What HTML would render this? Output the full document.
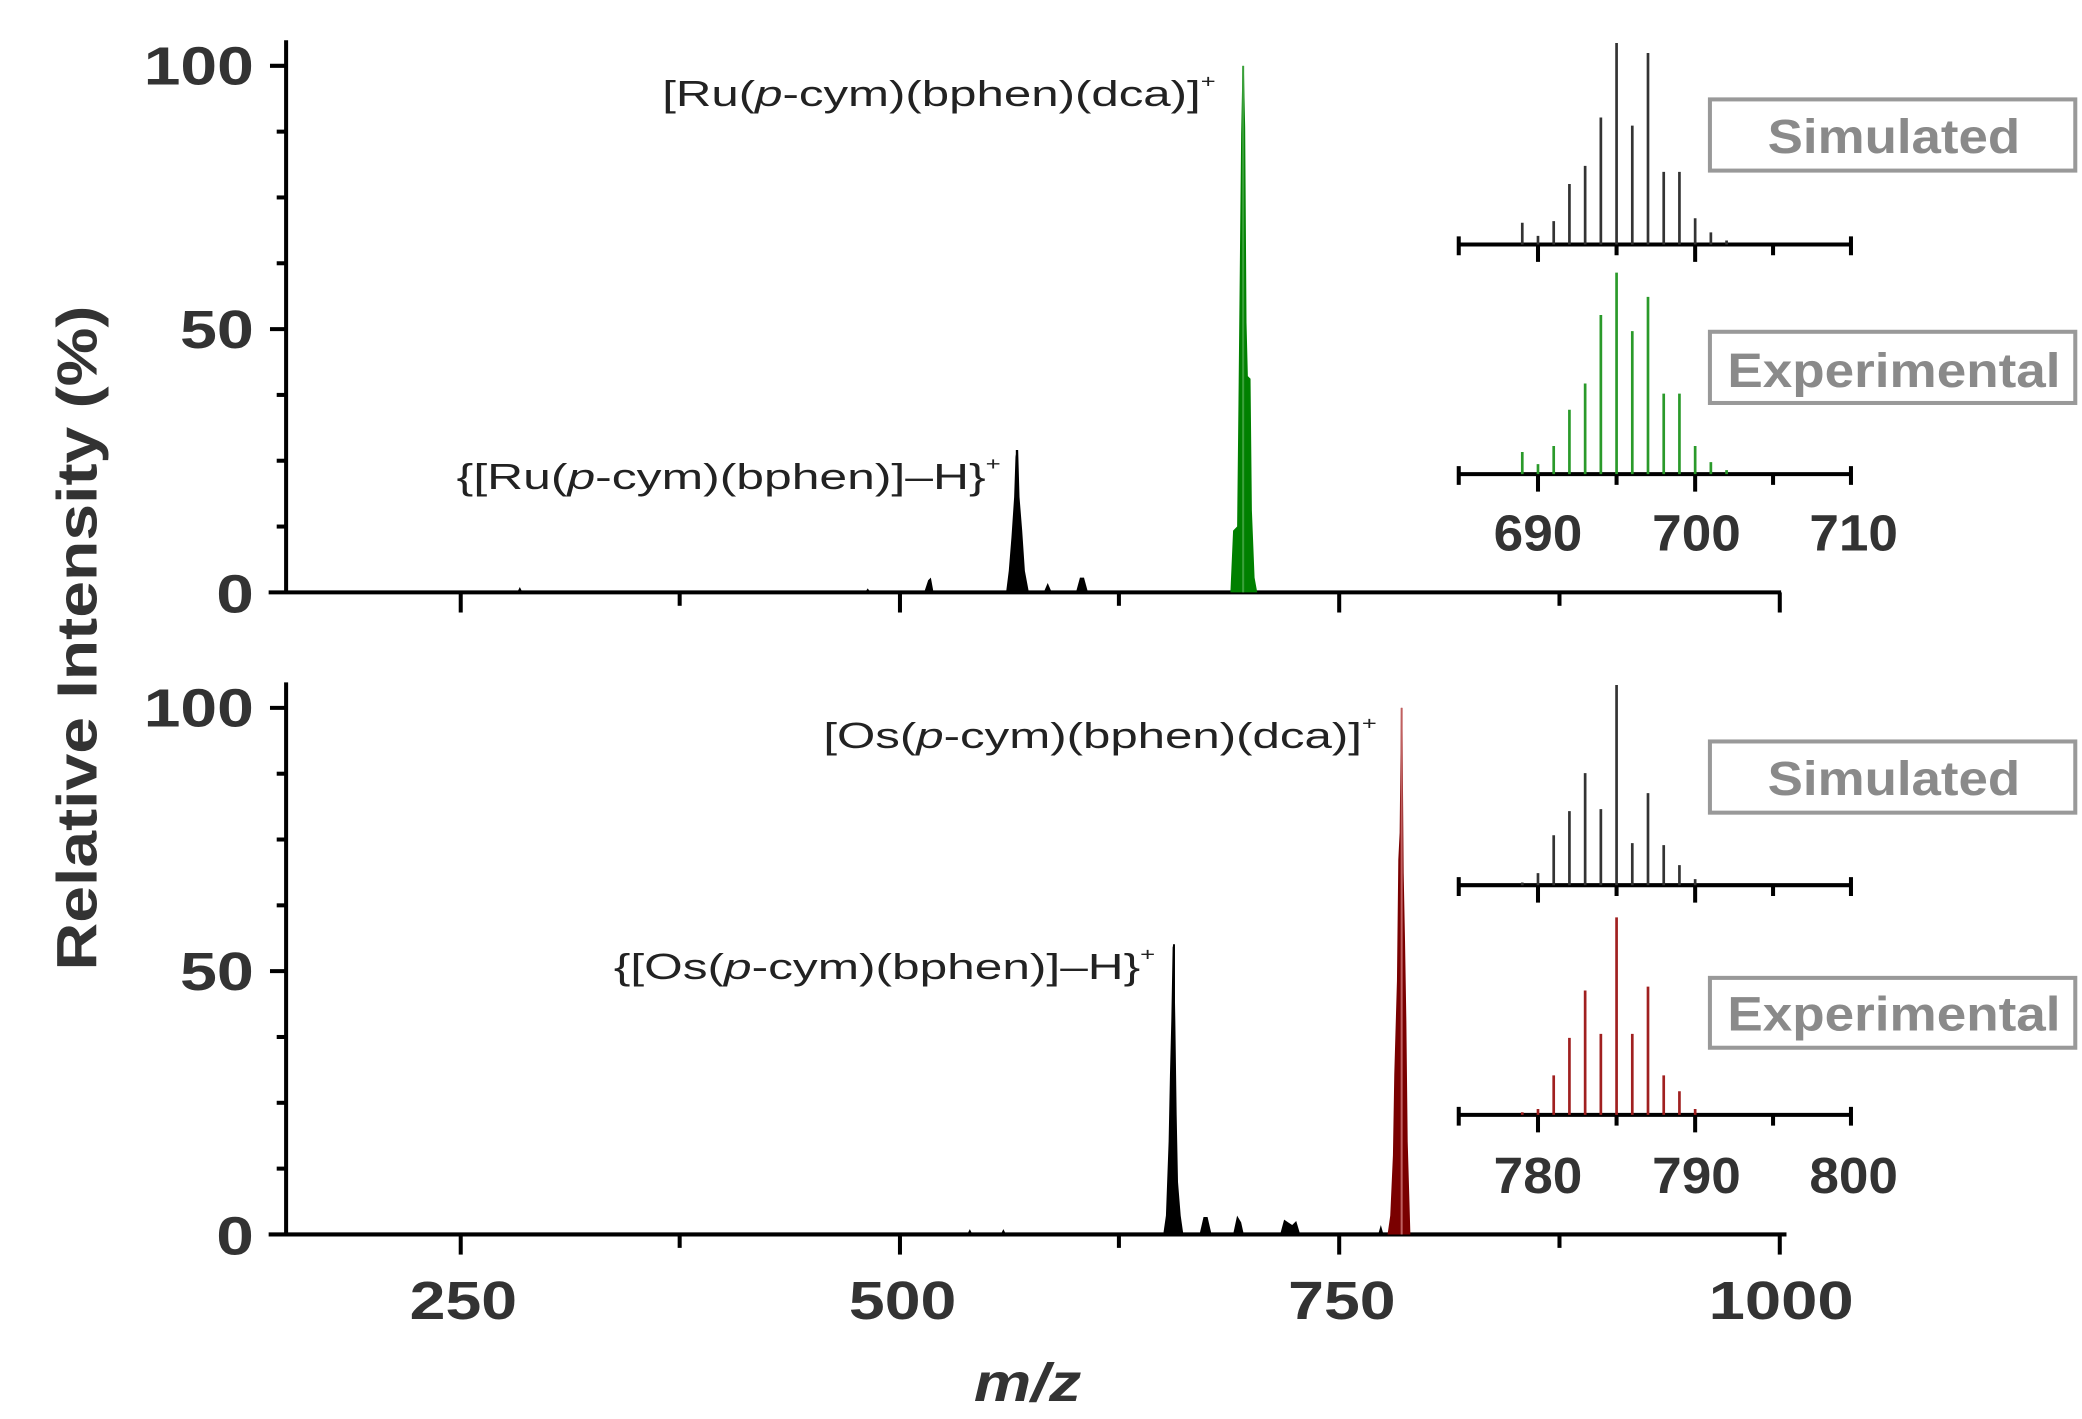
<!DOCTYPE html>
<html><head><meta charset="utf-8"><style>
html,body{margin:0;padding:0;background:#fff;}
svg{display:block;}
text{font-family:"Liberation Sans",Arial,sans-serif;}
</style></head><body>
<svg width="2082" height="1419" viewBox="0 0 1550 1056.4" preserveAspectRatio="none" xmlns="http://www.w3.org/2000/svg">
<rect width="1550" height="1057" fill="#fff"/>
<!-- Y label -->
<text transform="translate(72,475) rotate(-90)" text-anchor="middle" font-size="42" font-weight="bold" fill="#333" textLength="495" lengthAdjust="spacingAndGlyphs">Relative Intensity (%)</text>

<!-- ===== TOP PANEL ===== -->
<g stroke="#000" stroke-width="3" fill="none">
<line x1="213" y1="30" x2="213" y2="442"/>
<line x1="200" y1="441" x2="1326" y2="441"/>
<line x1="343" y1="441" x2="343" y2="456"/><line x1="670" y1="441" x2="670" y2="456"/>
<line x1="997" y1="441" x2="997" y2="456"/><line x1="1325" y1="441" x2="1325" y2="456"/>
<line x1="506" y1="441" x2="506" y2="451"/><line x1="833" y1="441" x2="833" y2="451"/><line x1="1161" y1="441" x2="1161" y2="451"/>
<line x1="201" y1="49" x2="213" y2="49"/><line x1="201" y1="245" x2="213" y2="245"/>
<line x1="206" y1="98" x2="213" y2="98"/><line x1="206" y1="147" x2="213" y2="147"/><line x1="206" y1="196" x2="213" y2="196"/>
<line x1="206" y1="294" x2="213" y2="294"/><line x1="206" y1="343" x2="213" y2="343"/><line x1="206" y1="392" x2="213" y2="392"/>
</g>
<g font-size="40" font-weight="bold" fill="#333" text-anchor="end">
<text x="189" y="63" textLength="82" lengthAdjust="spacingAndGlyphs">100</text>
<text x="189" y="259" textLength="55" lengthAdjust="spacingAndGlyphs">50</text>
<text x="189" y="456" textLength="28" lengthAdjust="spacingAndGlyphs">0</text>
</g>
<!-- top peaks -->
<g fill="#000">
<polygon points="749,441 751,425 753,400 755,370 756,340 757,335 758,335 759,370 761,395 763,425 766,441"/>
<polygon points="688,441 691,432 693,430 695,441"/>
<polygon points="777,441 780,434 783,441"/>
<polygon points="801,441 804,430 807,430 810,441"/>
<polygon points="385,441 387,437 389,441"/>
<polygon points="644,441 646,438 648,441"/>
</g>
<line x1="757" y1="441" x2="757" y2="335" stroke="#000" stroke-width="1.5"/>
<polygon points="916,441 918,395 921,392 922,300 923,200 924,100 925,49 926,49 927,95 928,240 929,280 931,282 932,380 934,430 936,441" fill="#008000"/>
<line x1="925.5" y1="441" x2="925.5" y2="49" stroke="#3aa03a" stroke-width="1.5"/>
<text x="493" y="79" font-size="27" fill="#222" textLength="412" lengthAdjust="spacingAndGlyphs">[Ru(<tspan font-style="italic">p</tspan>-cym)(bphen)(dca)]<tspan font-size="14" dy="-14">+</tspan></text>
<text x="340" y="364" font-size="27" fill="#222" textLength="405" lengthAdjust="spacingAndGlyphs">{[Ru(<tspan font-style="italic">p</tspan>-cym)(bphen)]–H}<tspan font-size="14" dy="-14">+</tspan></text>

<!-- ===== BOTTOM PANEL ===== -->
<g stroke="#000" stroke-width="3" fill="none">
<line x1="213" y1="508" x2="213" y2="920"/>
<line x1="200" y1="919" x2="1330" y2="919"/>
<line x1="343" y1="919" x2="343" y2="934"/><line x1="670" y1="919" x2="670" y2="934"/>
<line x1="997" y1="919" x2="997" y2="934"/><line x1="1325" y1="919" x2="1325" y2="934"/>
<line x1="506" y1="919" x2="506" y2="929"/><line x1="833" y1="919" x2="833" y2="929"/><line x1="1161" y1="919" x2="1161" y2="929"/>
<line x1="201" y1="527" x2="213" y2="527"/><line x1="201" y1="723" x2="213" y2="723"/>
<line x1="206" y1="576" x2="213" y2="576"/><line x1="206" y1="625" x2="213" y2="625"/><line x1="206" y1="674" x2="213" y2="674"/>
<line x1="206" y1="772" x2="213" y2="772"/><line x1="206" y1="821" x2="213" y2="821"/><line x1="206" y1="870" x2="213" y2="870"/>
</g>
<g font-size="40" font-weight="bold" fill="#333" text-anchor="end">
<text x="189" y="541" textLength="82" lengthAdjust="spacingAndGlyphs">100</text>
<text x="189" y="737" textLength="55" lengthAdjust="spacingAndGlyphs">50</text>
<text x="189" y="934" textLength="28" lengthAdjust="spacingAndGlyphs">0</text>
</g>
<g fill="#000">
<polygon points="866,919 868,905 870,850 871,800 872,760 873,705 874,703 875,760 876,830 877,880 879,905 881,919"/>
<polygon points="893,919 896,906 899,906 902,919"/>
<polygon points="918,919 921,905 924,910 926,919"/>
<polygon points="953,919 956,908 959,910 962,912 965,909 968,919"/>
<polygon points="720,919 722,915 724,919"/>
<polygon points="745,919 747,915 749,919"/>
<polygon points="1026,919 1028,912 1030,919"/>
</g>
<line x1="874" y1="919" x2="874" y2="703" stroke="#000" stroke-width="1.5"/>
<polygon points="1033,919 1035,905 1037,860 1038,800 1040,730 1041,640 1042,620 1043,527 1044,527 1045,650 1046,700 1047,760 1048,850 1050,919" fill="#7a0000"/>
<line x1="1043.5" y1="919" x2="1043.5" y2="527" stroke="#c06060" stroke-width="1.5"/>
<text x="613" y="557" font-size="27" fill="#222" textLength="412" lengthAdjust="spacingAndGlyphs">[Os(<tspan font-style="italic">p</tspan>-cym)(bphen)(dca)]<tspan font-size="14" dy="-14">+</tspan></text>
<text x="457" y="729" font-size="27" fill="#222" textLength="403" lengthAdjust="spacingAndGlyphs">{[Os(<tspan font-style="italic">p</tspan>-cym)(bphen)]–H}<tspan font-size="14" dy="-14">+</tspan></text>

<!-- main x labels -->
<g font-size="40" font-weight="bold" fill="#333" text-anchor="middle">
<text x="345" y="982" textLength="80" lengthAdjust="spacingAndGlyphs">250</text>
<text x="672" y="982" textLength="80" lengthAdjust="spacingAndGlyphs">500</text>
<text x="999" y="982" textLength="80" lengthAdjust="spacingAndGlyphs">750</text>
<text x="1326" y="982" textLength="108" lengthAdjust="spacingAndGlyphs">1000</text>
</g>
<text x="765" y="1043" font-size="40" font-weight="bold" font-style="italic" fill="#333" text-anchor="middle" textLength="80" lengthAdjust="spacingAndGlyphs">m/z</text>

<!-- ===== INSETS ===== -->
<g stroke="#000" stroke-width="3" fill="none">
<path d="M1086,182 H1378 M1086,176 V190 M1378,176 V190 M1145,182 V195 M1262,182 V195 M1203.5,182 V190 M1320,182 V190"/>
<path d="M1086,353 H1378 M1086,347 V361 M1378,347 V361 M1145,353 V366 M1262,353 V366 M1203.5,353 V361 M1320,353 V361"/>
<path d="M1086,659 H1378 M1086,653 V667 M1378,653 V667 M1145,659 V672 M1262,659 V672 M1203.5,659 V667 M1320,659 V667"/>
<path d="M1086,830 H1378 M1086,824 V838 M1378,824 V838 M1145,830 V843 M1262,830 V843 M1203.5,830 V838 M1320,830 V838"/>
</g>
<g stroke="#333" stroke-width="2">
<path d="M1133.3,182V165.8 M1145,182V175.6 M1156.7,182V164.6 M1168.4,182V137 M1180.1,182V123.5 M1191.8,182V87.5 M1203.5,182V32 M1215.2,182V93.5 M1226.9,182V39.5 M1238.6,182V128 M1250.3,182V128 M1262,182V162.5 M1273.7,182V173 M1285.4,182V179"/>
<path d="M1133.3,659V657 M1145,659V650 M1156.7,659V621.8 M1168.4,659V603.9 M1180.1,659V575.6 M1191.8,659V602.4 M1203.5,659V510 M1215.2,659V627.7 M1226.9,659V590.5 M1238.6,659V629.2 M1250.3,659V644.1 M1262,659V654.5"/>
</g>
<g stroke="#2a9a2a" stroke-width="2">
<path d="M1133.3,353V336.5 M1145,353V345.5 M1156.7,353V332 M1168.4,353V305 M1180.1,353V285.5 M1191.8,353V234.5 M1203.5,353V203 M1215.2,353V246.5 M1226.9,353V221 M1238.6,353V293 M1250.3,353V293 M1262,353V332 M1273.7,353V344 M1285.4,353V350"/>
</g>
<g stroke="#a02020" stroke-width="2">
<path d="M1133.3,830V828 M1145,830V825.6 M1156.7,830V800.6 M1168.4,830V772.7 M1180.1,830V737.4 M1191.8,830V769.7 M1203.5,830V683 M1215.2,830V769.7 M1226.9,830V734.5 M1238.6,830V800.6 M1250.3,830V812.4 M1262,830V825.6"/>
</g>
<g font-size="38" font-weight="bold" fill="#333" text-anchor="middle">
<text x="1145" y="410" textLength="66" lengthAdjust="spacingAndGlyphs">690</text>
<text x="1263" y="410" textLength="66" lengthAdjust="spacingAndGlyphs">700</text>
<text x="1380" y="410" textLength="66" lengthAdjust="spacingAndGlyphs">710</text>
<text x="1145" y="888" textLength="66" lengthAdjust="spacingAndGlyphs">780</text>
<text x="1263" y="888" textLength="66" lengthAdjust="spacingAndGlyphs">790</text>
<text x="1380" y="888" textLength="66" lengthAdjust="spacingAndGlyphs">800</text>
</g>
<!-- legend boxes -->
<g fill="#fff" stroke="#999" stroke-width="3">
<rect x="1273" y="74" width="272" height="53"/>
<rect x="1273" y="247" width="272" height="53"/>
<rect x="1273" y="552" width="272" height="53"/>
<rect x="1273" y="728" width="272" height="52"/>
</g>
<g font-size="36" font-weight="bold" fill="#8a8a8a" text-anchor="middle">
<text x="1410" y="114" textLength="188" lengthAdjust="spacingAndGlyphs">Simulated</text>
<text x="1410" y="288" textLength="248" lengthAdjust="spacingAndGlyphs">Experimental</text>
<text x="1410" y="592" textLength="188" lengthAdjust="spacingAndGlyphs">Simulated</text>
<text x="1410" y="767" textLength="248" lengthAdjust="spacingAndGlyphs">Experimental</text>
</g>
</svg>
</body></html>
